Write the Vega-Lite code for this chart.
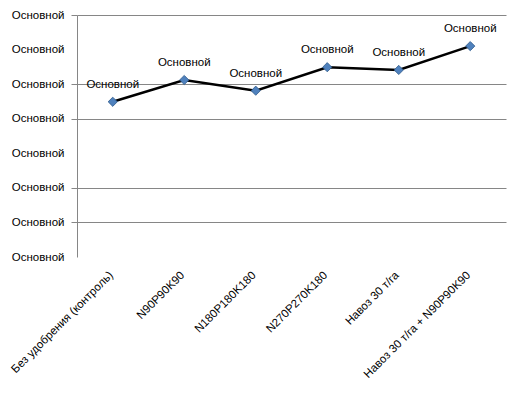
{
  "$schema": "https://vega.github.io/schema/vega-lite/v6.json",
  "width": 429,
  "height": 242,
  "autosize": {"type": "none"},
  "padding": {"left": 77, "top": 15, "right": 16, "bottom": 137},
  "background": "white",
  "config": {
    "view": {"stroke": null},
    "font": "Liberation Sans",
    "axis": {"labelFont": "Liberation Sans", "labelFontSize": 11.5, "labelColor": "#000000", "titleFont": "Liberation Sans"}
  },
  "data": {
    "values": [
      {"variant": "Без удобрения (контроль)", "value": 4.49, "label": "Основной"},
      {"variant": "N90P90K90", "value": 5.12, "label": "Основной"},
      {"variant": "N180P180K180", "value": 4.81, "label": "Основной"},
      {"variant": "N270P270K180", "value": 5.49, "label": "Основной"},
      {"variant": "Навоз 30 т/га", "value": 5.41, "label": "Основной"},
      {"variant": "Навоз 30 т/га + N90P90K90", "value": 6.1, "label": "Основной"}
    ]
  },
  "encoding": {
    "x": {
      "field": "variant",
      "type": "nominal",
      "sort": null,
      "scale": {"paddingInner": 0, "paddingOuter": 0},
      "axis": {"title": null, "labelAngle": -45, "domain": false, "ticks": false, "labelPadding": 12, "labelOffset": -6, "labelLimit": 300}
    }
  },
  "layer": [
    {
      "mark": {"type": "line", "color": "#000000", "strokeWidth": 2.5},
      "encoding": {
        "y": {
          "field": "value",
          "type": "quantitative",
          "scale": {"domain": [0, 7], "nice": false},
          "axis": {"title": null, "orient": "left", "values": [1, 2, 4, 5, 7], "grid": true, "gridColor": "#868686", "gridOpacity": 1, "labels": false, "domain": false, "ticks": true, "tickSize": 6, "tickColor": "#868686"}
        }
      }
    },
    {
      "mark": {"type": "point", "shape": "diamond", "filled": true, "size": 85, "fill": "#4F81BD", "stroke": "#2F5A8A", "strokeWidth": 0.8, "opacity": 1},
      "encoding": {
        "y": {
          "field": "value",
          "type": "quantitative",
          "axis": {"title": null, "orient": "left", "values": [0, 1, 2, 3, 4, 5, 6, 7], "labelExpr": "'Основной'", "grid": false, "ticks": false, "domain": true, "domainColor": "#868686", "labelPadding": 13}
        }
      }
    },
    {
      "mark": {"type": "text", "dy": -17, "fontSize": 11.5, "font": "Liberation Sans", "color": "#000000"},
      "encoding": {
        "y": {"field": "value", "type": "quantitative", "axis": null},
        "text": {"field": "label"}
      }
    }
  ],
  "resolve": {"axis": {"y": "independent"}, "scale": {"y": "shared"}}
}
